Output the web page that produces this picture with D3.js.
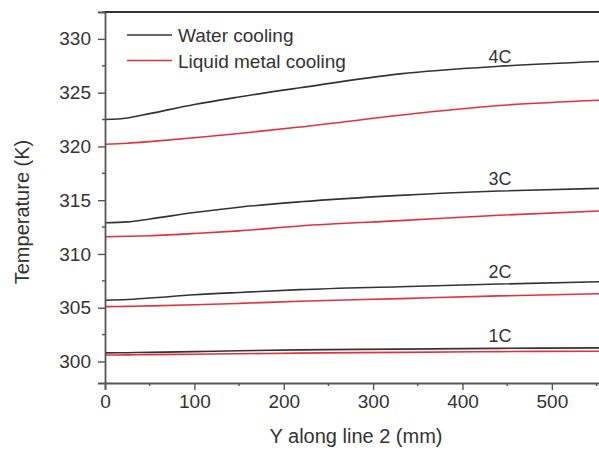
<!DOCTYPE html>
<html>
<head>
<meta charset="utf-8">
<script src="https://cdn.jsdelivr.net/npm/d3@7"></script>
<style>
  body { margin: 0; background: #fff; }
  text { font-family: "Liberation Sans", Arial, sans-serif; fill: #333; }
</style>
</head>
<body>
<div id="chart"></div>
<script>
// data
var positions = [0, 25, 50, 100, 150, 218, 330, 441, 555];

var water1C = [300.8, 300.82, 300.85, 300.92, 301.0, 301.08, 301.15, 301.22, 301.27];
var metal1C = [300.6, 300.62, 300.64, 300.68, 300.72, 300.78, 300.85, 300.92, 300.96];
var water2C = [305.7, 305.76, 305.9, 306.2, 306.42, 306.68, 306.95, 307.2, 307.42];
var metal2C = [305.1, 305.13, 305.17, 305.27, 305.4, 305.6, 305.85, 306.1, 306.3];
var water3C = [312.9, 312.98, 313.25, 313.85, 314.35, 314.85, 315.45, 315.85, 316.1];
var metal3C = [311.6, 311.64, 311.7, 311.9, 312.15, 312.6, 313.1, 313.6, 314.0];
var water4C = [322.5, 322.65, 323.05, 323.9, 324.6, 325.45, 326.75, 327.45, 327.9];
var metal4C = [320.2, 320.3, 320.45, 320.8, 321.2, 321.8, 322.9, 323.8, 324.3];

var seriesNames = ["Water cooling", "Liquid metal cooling"];
var caseLabels = ["1C", "2C", "3C", "4C"];
var caseLabelY = [301.85, 307.8, 316.4, 327.8];
var xTicks = [0, 100, 200, 300, 400, 500];
var yTicks = [300, 305, 310, 315, 320, 325, 330];

var colors = {"Water cooling": "#333333", "Liquid metal cooling": "#e3303f"};

var svgWidth = 599;
var svgHeight = 452;

var svg = d3.select("#chart")
  .append("svg")
  .attr("width", svgWidth)
  .attr("height", svgHeight);

// scales
var xScale = d3.scaleLinear().domain([0, 555]).range([105, 601]);
var yScale = d3.scaleLinear().domain([298, 332.5]).range([383, 12]);

// lines
var line = d3.line()
  .x((d, i) => xScale(positions[i]))
  .y(d => yScale(d))
  .curve(d3.curveMonotoneX);

var lineSets = [
  [water1C, metal1C],
  [water2C, metal2C],
  [water3C, metal3C],
  [water4C, metal4C]
];

var plotGroup = svg.append("g");

lineSets.forEach(pair => {
  plotGroup.append("path")
    .datum(pair[1])
    .attr("d", line)
    .attr("fill", "none")
    .attr("stroke", colors["Liquid metal cooling"])
    .attr("stroke-width", 1.6);
  plotGroup.append("path")
    .datum(pair[0])
    .attr("d", line)
    .attr("fill", "none")
    .attr("stroke", colors["Water cooling"])
    .attr("stroke-width", 1.6);
});

// case labels
plotGroup.selectAll("text.case")
  .data(caseLabels)
  .enter()
  .append("text")
  .attr("class", "case")
  .attr("x", xScale(442))
  .attr("y", (d, i) => yScale(caseLabelY[i]))
  .attr("text-anchor", "middle")
  .style("font-size", "18px")
  .text(d => d);

// axes
var bottomAxis = d3.axisBottom(xScale).tickValues(xTicks).tickSize(7).tickPadding(5);
var leftAxis = d3.axisLeft(yScale).tickValues(yTicks).tickSize(7).tickPadding(7);

var xAxis = svg.append("g")
  .attr("transform", `translate(0, ${yScale.range()[0]})`)
  .call(bottomAxis);

var yAxis = svg.append("g")
  .attr("transform", `translate(${xScale.range()[0]}, 0)`)
  .call(leftAxis);

[xAxis, yAxis].forEach(ax => {
  ax.select(".domain").attr("stroke", "#555").attr("stroke-width", 1.8);
  ax.selectAll(".tick line").attr("stroke", "#555").attr("stroke-width", 1.4);
  ax.selectAll("text").style("font-size", "19px").style("fill", "#333");
});

// minor ticks
svg.append("g")
  .selectAll("line")
  .data([50, 150, 250, 350, 450, 550])
  .enter()
  .append("line")
  .attr("x1", d => xScale(d))
  .attr("x2", d => xScale(d))
  .attr("y1", yScale.range()[0])
  .attr("y2", yScale.range()[0] + 3)
  .attr("stroke", "#555")
  .attr("stroke-width", 1.4);

svg.append("g")
  .selectAll("line")
  .data([302.5, 307.5, 312.5, 317.5, 322.5, 327.5, 332.5])
  .enter()
  .append("line")
  .attr("x1", xScale.range()[0])
  .attr("x2", xScale.range()[0] - 3)
  .attr("y1", d => yScale(d))
  .attr("y2", d => yScale(d))
  .attr("stroke", "#555")
  .attr("stroke-width", 1.4);

// top frame
svg.append("line")
  .attr("x1", xScale.range()[0])
  .attr("x2", svgWidth)
  .attr("y1", yScale.range()[1])
  .attr("y2", yScale.range()[1])
  .attr("stroke", "#333")
  .attr("stroke-width", 2);

// axis titles
svg.append("text")
  .attr("x", 356)
  .attr("y", 443)
  .attr("text-anchor", "middle")
  .style("font-size", "20px")
  .text("Y along line 2 (mm)");

svg.append("text")
  .attr("transform", "rotate(-90)")
  .attr("x", -212)
  .attr("y", 29)
  .attr("text-anchor", "middle")
  .style("font-size", "20px")
  .text("Temperature (K)");

// legend
var legend = svg.append("g");
seriesNames.forEach((name, i) => {
  var ly = 35 + i * 25.5;
  legend.append("line")
    .attr("x1", 127)
    .attr("x2", 172)
    .attr("y1", ly)
    .attr("y2", ly)
    .attr("stroke", colors[name])
    .attr("stroke-width", 1.6);
  legend.append("text")
    .attr("x", 178)
    .attr("y", ly + 7)
    .style("font-size", "19px")
    .text(name);
});
</script>
</body>
</html>
